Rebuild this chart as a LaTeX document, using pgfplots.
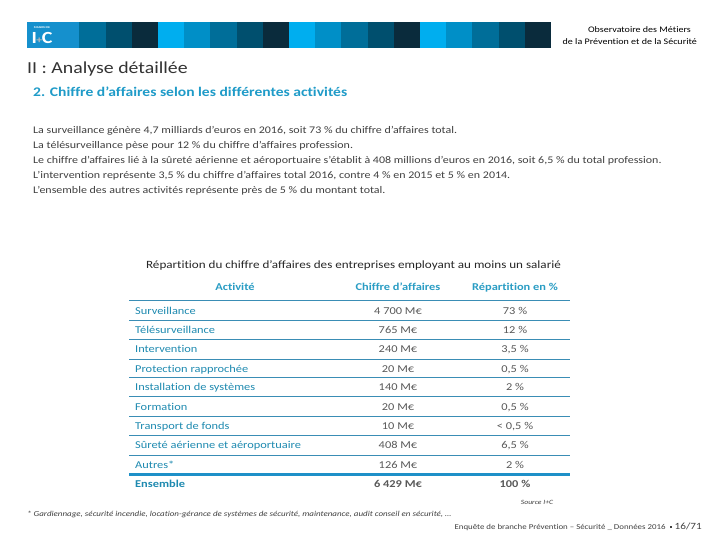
\documentclass[border=0pt]{standalone}
\usepackage{pgfplots}
\pgfplotsset{compat=1.18}
\usepackage{pgfplotstable}
\usepackage{fontspec}
\setmainfont{Carlito}[FakeStretch=1.18, Ligatures=NoCommon]
\definecolor{cLogo}{HTML}{1590CD}
\definecolor{cBright}{HTML}{00AEEF}
\definecolor{cMed}{HTML}{008FC7}
\definecolor{cMid}{HTML}{006E99}
\definecolor{cDark}{HTML}{004F6E}
\definecolor{cDarkest}{HTML}{0A2B3C}
\definecolor{cSub}{HTML}{1F9BC8}
\definecolor{cHead}{HTML}{2A9DC4}
\definecolor{cLab}{HTML}{1E8AB0}
\definecolor{cLine}{HTML}{3A8DB5}
\definecolor{cThick}{HTML}{1E90C8}
\definecolor{cVal}{HTML}{595959}
\definecolor{cTxt}{HTML}{404040}
\newcommand{\fs}[1]{\fontsize{#1}{#1}\selectfont}
\newcommand{\blk}[2]{\fill[#2] (axis cs:#1,22) rectangle (axis cs:#1+26.3,48);}

\pgfplotstableread[col sep=semicolon]{
y;act;ca;pct
314;Surveillance;4 700 M€;73 \%
333.3;Télésurveillance;765 M€;12 \%
352.8;Intervention;240 M€;3,5 \%
372;Protection rapprochée;20 M€;0,5 \%
390.8;Installation de systèmes;140 M€;2 \%
410;Formation;20 M€;0,5 \%
429.1;Transport de fonds;10 M€;< 0,5 \%
448.6;Sûreté aérienne et aéroportuaire;408 M€;6,5 \%
468.3;Autres*;126 M€;2 \%
}\rows
\pgfplotstableread[col sep=semicolon]{
y;act;ca;pct
487.6;Ensemble;6 429 M€;100 \%
}\total

\begin{document}
\begin{tikzpicture}
\begin{axis}[
  scale only axis, width=720pt, height=540pt,
  xmin=0, xmax=720, ymin=0, ymax=540, y dir=reverse,
  hide axis, clip=false,
]
\fill[white] (axis cs:0,0) rectangle (axis cs:720,540);
% header stripe
\fill[cLogo] (axis cs:27,22) rectangle (axis cs:79.4,48);
\blk{79.4}{cMid}\blk{105.6}{cDark}\blk{131.8}{cDarkest}
\blk{158}{cBright}\blk{184.2}{cMed}\blk{210.4}{cMid}\blk{236.6}{cDark}\blk{262.8}{cDarkest}
\blk{289}{cBright}\blk{315.2}{cMed}\blk{341.4}{cMid}\blk{367.6}{cDark}\blk{393.8}{cDarkest}
\blk{420}{cBright}\blk{446.2}{cMed}\blk{472.4}{cMid}\blk{498.6}{cDark}\blk{524.8}{cDarkest}
\node[anchor=base, inner sep=0pt, text=white, font=\fs{2.8}\bfseries] at (axis cs:42,28.5) {MAISON DE};
\node[anchor=base, inner sep=0pt, text=white, font=\bfseries] at (axis cs:42,44) {{\fs{17}I}\kern-0.5pt{\color{gray!55}\fs{10}+}\kern-0.5pt{\fs{17}C}};
\node[anchor=base east, inner sep=0pt, text=black, font=\fs{8.5}] at (axis cs:691,33) {Observatoire des Métiers};
\node[anchor=base east, inner sep=0pt, text=black, font=\fs{8.5}] at (axis cs:697,45) {de la Prévention et de la Sécurité};
% titles
\node[anchor=base west, inner sep=0pt, text=cTxt!80!black, font=\fs{16.8}] at (axis cs:27,74) {II : Analyse détaillée};
\node[anchor=base west, inner sep=0pt, text=cSub, font=\fs{13.2}\bfseries] at (axis cs:33,96.5) {2. Chiffre d’affaires selon les différentes activités};
% paragraph
\begin{scope}[every node/.style={anchor=base west, inner sep=0pt, text=cTxt, font=\fs{10.15}}]
\node at (axis cs:33,133.5) {La surveillance génère 4,7 milliards d’euros en 2016, soit 73 \% du chiffre d’affaires total.};
\node at (axis cs:33,148.5) {La télésurveillance pèse pour 12 \% du chiffre d’affaires profession.};
\node at (axis cs:33,163.5) {Le chiffre d’affaires lié à la sûreté aérienne et aéroportuaire s’établit à 408 millions d’euros en 2016, soit 6,5 \% du total profession.};
\node at (axis cs:33,178.5) {L’intervention représente 3,5 \% du chiffre d’affaires total 2016, contre 4 \% en 2015 et 5 \% en 2014.};
\node at (axis cs:33,193.5) {L’ensemble des autres activités représente près de 5 \% du montant total.};
\end{scope}
% table title and header
\node[anchor=base, inner sep=0pt, text=black!85, font=\fs{11.1}] at (axis cs:353.5,268) {Répartition du chiffre d’affaires des entreprises employant au moins un salarié};
\node[anchor=base, inner sep=0pt, text=cHead, font=\fs{10.5}\bfseries] at (axis cs:235,290.5) {Activité};
\node[anchor=base, inner sep=0pt, text=cHead, font=\fs{10.5}\bfseries] at (axis cs:398,290.5) {Chiffre d’affaires};
\node[anchor=base, inner sep=0pt, text=cHead, font=\fs{10.5}\bfseries] at (axis cs:515,290.5) {Répartition en \%};
% separators
\pgfplotsinvokeforeach{300.7,320,339.3,359,377.7,396.7,416,435,455}{
  \draw[cLine, line width=0.9pt] (axis cs:129,#1) -- (axis cs:570,#1);
}
\draw[cThick, line width=2.6pt] (axis cs:129,474.3) -- (axis cs:570,474.3);
% table rows
\addplot[draw=none, nodes near coords, point meta=explicit symbolic,
  nodes near coords style={anchor=base west, inner sep=0pt, text=cLab, font=\fs{10.5}}]
  table[x expr=135, y=y, meta=act] {\rows};
\addplot[draw=none, nodes near coords, point meta=explicit symbolic,
  nodes near coords style={anchor=base, inner sep=0pt, text=cVal, font=\fs{10.5}}]
  table[x expr=398, y=y, meta=ca] {\rows};
\addplot[draw=none, nodes near coords, point meta=explicit symbolic,
  nodes near coords style={anchor=base, inner sep=0pt, text=cVal, font=\fs{10.5}}]
  table[x expr=515, y=y, meta=pct] {\rows};
\addplot[draw=none, nodes near coords, point meta=explicit symbolic,
  nodes near coords style={anchor=base west, inner sep=0pt, text=cLab, font=\fs{10.5}\bfseries}]
  table[x expr=135, y=y, meta=act] {\total};
\addplot[draw=none, nodes near coords, point meta=explicit symbolic,
  nodes near coords style={anchor=base, inner sep=0pt, text=cVal, font=\fs{10.5}\bfseries}]
  table[x expr=398, y=y, meta=ca] {\total};
\addplot[draw=none, nodes near coords, point meta=explicit symbolic,
  nodes near coords style={anchor=base, inner sep=0pt, text=cVal, font=\fs{10.5}\bfseries}]
  table[x expr=515, y=y, meta=pct] {\total};
% footer
\node[anchor=base, inner sep=0pt, text=cTxt, font=\fs{6.5}\itshape] at (axis cs:537,504) {Source I+C};
\node[anchor=base west, inner sep=0pt, text=cTxt, font=\fs{7.6}\itshape] at (axis cs:27,516.5) {* Gardiennage, sécurité incendie, location-gérance de systèmes de sécurité, maintenance, audit conseil en sécurité, …};
\node[anchor=base east, inner sep=0pt, text=cTxt, font=\fs{7.5}] at (axis cs:702,529) {Enquête de branche Prévention – Sécurité \_ Données 2016\hspace{4pt}\raisebox{1pt}{\rule{2.2pt}{2.2pt}}\hspace{3pt}{\fs{9.5}16/71}};
\end{axis}
\end{tikzpicture}
\end{document}
